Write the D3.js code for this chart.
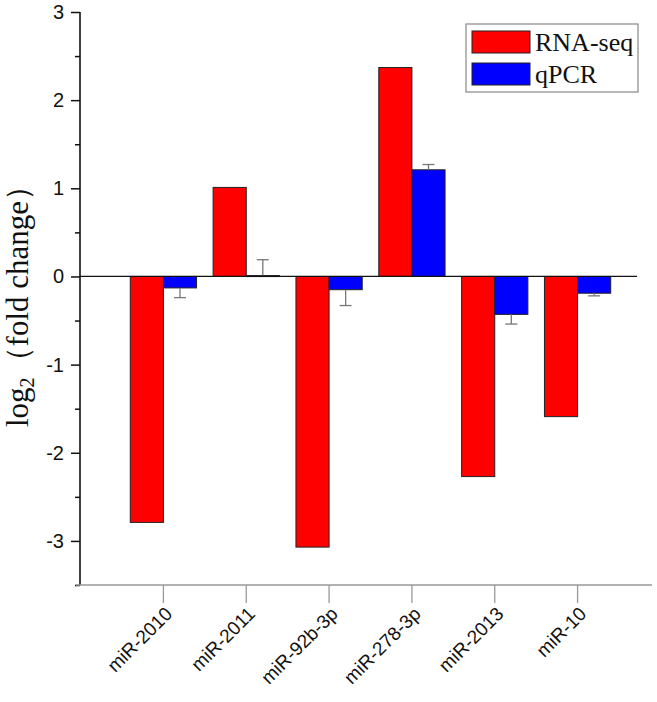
<!DOCTYPE html>
<html>
<head>
<meta charset="utf-8">
<script src="https://cdn.jsdelivr.net/npm/d3@7"></script>
<style>
  html, body { margin: 0; padding: 0; background: #fff; }
  svg { display: block; }
</style>
</head>
<body>
<svg id="chart" width="657" height="702"></svg>
<script>
const categories = ["miR-2010", "miR-2011", "miR-92b-3p", "miR-278-3p", "miR-2013", "miR-10"];
const seriesNames = ["RNA-seq", "qPCR"];
const rnaSeq = [-2.79, 1.01, -3.07, 2.37, -2.27, -1.59];
const qpcr = [-0.13, 0.01, -0.15, 1.21, -0.43, -0.19];
const qpcrErr = [0.11, 0.18, 0.18, 0.06, 0.11, 0.03];
const yTicks = [-3, -2, -1, 0, 1, 2, 3];
const yMinorTicks = [-3.5, -2.5, -1.5, -0.5, 0.5, 1.5, 2.5];
const colors = ["#ff0000", "#0000ff"];

const svg = d3.select("#chart");
const xLeft = 80, xRight = 652;

const x = d3.scaleBand().domain(categories).range([122, 619]).paddingInner(0.2).paddingOuter(0.1);
const xs = d3.scaleBand().domain(seriesNames).range([0, x.bandwidth()]);
const y = d3.scaleLinear().domain([-3.5, 3]).range([585, 12]);

const rows = categories.map((c, i) => ({ c, vals: [rnaSeq[i], qpcr[i]], err: qpcrErr[i] }));

// bars
const g = svg.append("g");
rows.forEach(r => {
  r.vals.forEach((v, j) => {
    g.append("rect")
      .attr("x", x(r.c) + xs(seriesNames[j]))
      .attr("width", xs.bandwidth())
      .attr("y", y(Math.max(0, v)))
      .attr("height", Math.max(1, Math.abs(y(v) - y(0))))
      .attr("fill", colors[j])
      .attr("stroke", "#222")
      .attr("stroke-width", 1);
  });
  const v = r.vals[1];
  const cx = x(r.c) + xs("qPCR") + xs.bandwidth() / 2;
  const tip = v >= 0 ? v + r.err : v - r.err;
  g.append("line").attr("x1", cx).attr("x2", cx).attr("y1", y(v)).attr("y2", y(tip))
    .attr("stroke", "#777").attr("stroke-width", 1.3);
  g.append("line").attr("x1", cx - 6).attr("x2", cx + 6).attr("y1", y(tip)).attr("y2", y(tip))
    .attr("stroke", "#777").attr("stroke-width", 1.3);
});

// zero line
svg.append("line").attr("x1", xLeft).attr("x2", 637).attr("y1", y(0)).attr("y2", y(0))
  .attr("stroke", "#111").attr("stroke-width", 1.2);

// y axis
const yAxis = svg.append("g").attr("transform", `translate(${xLeft},0)`)
  .call(d3.axisLeft(y).tickValues(yTicks).tickSize(9).tickPadding(7).tickFormat(d => String(d)));
yAxis.select(".domain").attr("stroke", "#111").attr("stroke-width", 1.6).attr("d", `M0,${y(3)}V${y(-3.5)}`);
yAxis.selectAll(".tick line").attr("stroke", "#111").attr("stroke-width", 1.5);
yAxis.selectAll(".tick text").attr("font-family", "Arial, 'Liberation Sans', sans-serif").attr("font-size", 20).attr("fill", "#111");
const yMinor = svg.append("g").attr("transform", `translate(${xLeft},0)`)
  .call(d3.axisLeft(y).tickValues(yMinorTicks).tickSize(5).tickFormat(""));
yMinor.select(".domain").remove();
yMinor.selectAll(".tick line").attr("stroke", "#111").attr("stroke-width", 1.5);

// x axis
svg.append("line").attr("x1", xLeft - 4).attr("x2", xRight).attr("y1", 585).attr("y2", 585)
  .attr("stroke", "#999").attr("stroke-width", 1.3);
const xAxis = svg.append("g").attr("transform", "translate(0,585)")
  .call(d3.axisBottom(x).tickSize(18).tickFormat(""));
xAxis.select(".domain").remove();
xAxis.selectAll(".tick line").attr("stroke", "#999").attr("stroke-width", 1.3);
xAxis.selectAll(".tick").append("text")
  .attr("transform", "translate(10,30) rotate(-45)")
  .attr("text-anchor", "end")
  .attr("font-family", "Arial, 'Liberation Sans', sans-serif")
  .attr("font-size", 19)
  .attr("fill", "#111")
  .text(d => d);

// y label
const yl = svg.append("text")
  .attr("transform", "translate(28,427) rotate(-90)")
  .attr("text-anchor", "start")
  .attr("font-family", "'Times New Roman', 'Liberation Serif', serif")
  .attr("font-size", 31)
  .attr("fill", "#111");
yl.append("tspan").text("log");
yl.append("tspan").attr("dy", 6).attr("font-size", 20).text("2");
yl.append("tspan").attr("dy", -6).text("（fold change）");

// legend
const lg = svg.append("g");
lg.append("rect").attr("x", 466).attr("y", 24).attr("width", 172).attr("height", 68)
  .attr("fill", "#fff").attr("stroke", "#888").attr("stroke-width", 1.2);
seriesNames.forEach((s, i) => {
  lg.append("rect").attr("x", 472).attr("y", 31 + i * 32).attr("width", 58).attr("height", 22)
    .attr("fill", colors[i]).attr("stroke", "#222").attr("stroke-width", 1);
  lg.append("text").attr("x", 535).attr("y", 51 + i * 32)
    .attr("font-family", "'Times New Roman', 'Liberation Serif', serif")
    .attr("font-size", 26).attr("fill", "#111").text(s);
});
</script>
</body>
</html>
